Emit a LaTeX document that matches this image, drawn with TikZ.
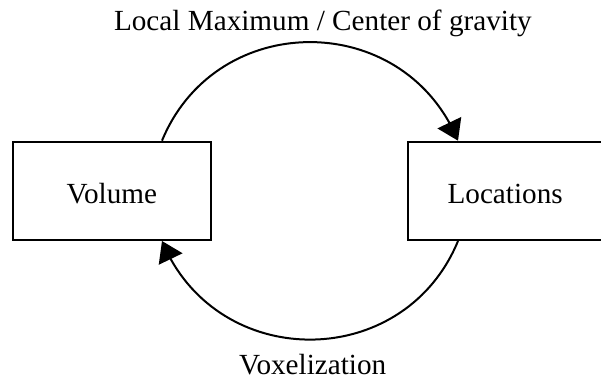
\documentclass[tikz,border=0pt]{standalone}
\usepackage{fontspec}
\setmainfont{Liberation Serif}
\usetikzlibrary{arrows.meta,bending}
\begin{document}
\begin{tikzpicture}[x=1pt,y=1pt,
  box/.style={draw, line width=2pt, rectangle, inner sep=0pt, text height=26pt, text depth=0pt, font=\fontsize{29.2}{35}\selectfont},
  lbl/.style={font=\fontsize{29.2}{35}\selectfont, inner sep=0pt, anchor=base},
  flow/.style={line width=2pt, -{Triangle[length=20pt,width=26pt]}}]
\useasboundingbox (0,0) rectangle (601,380);
\clip (0,0) rectangle (601,380);
\node[box, minimum width=198.3pt, minimum height=98.3pt] (vol) at (111.85,189.15) {Volume};
\node[box, minimum width=193.7pt, minimum height=98.3pt] (loc) at (505.15,189.15) {Locations};
\node[lbl] (top) at (322.85,349.3) {Local Maximum / Center of gravity};
\node[lbl] (bot) at (312.7,5.5) {Voxelization};
\draw[flow] ([xshift=50.15pt]vol.north) to[out=67.6,in=112.4,looseness=1.232] ([xshift=-47.15pt]loc.north);
\draw[flow] ([xshift=-47.15pt]loc.south) to[out=-112.4,in=-67.6,looseness=1.232] ([xshift=50.15pt]vol.south);
\end{tikzpicture}
\end{document}
